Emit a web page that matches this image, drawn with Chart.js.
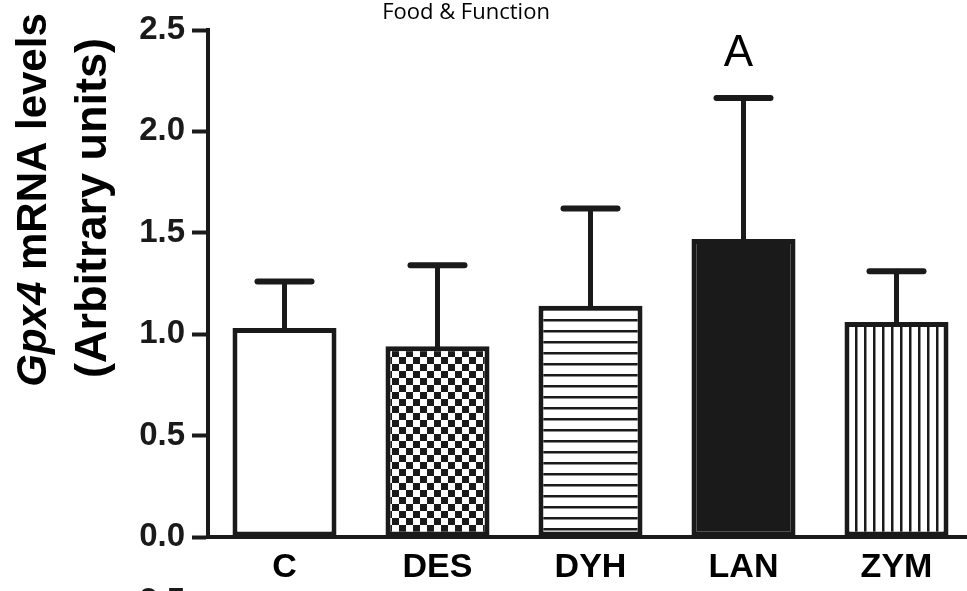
<!DOCTYPE html>
<html>
<head>
<meta charset="utf-8">
<script src="https://cdn.jsdelivr.net/npm/chart.js@4"></script>
<style>
  html, body { margin: 0; padding: 0; background: #fff; overflow: hidden; }
  #wrap { position: absolute; left: 0; top: 0; }
</style>
</head>
<body>
<div id="wrap"><canvas id="gpx4" width="975" height="591"></canvas></div>
<script>
const groups = ['C', 'DES', 'DYH', 'LAN', 'ZYM'];
const means = [1.03, 0.94, 1.14, 1.47, 1.06];
const upperErr = [1.26, 1.34, 1.62, 2.165, 1.31];
const sigLetters = ['', '', '', 'A', ''];
const yTicks = [0, 0.5, 1.0, 1.5, 2.0, 2.5];

const ink = '#1a1a1a';

// fill patterns for the bars
function makePattern(kind) {
    const c = document.createElement('canvas');
    const g = c.getContext('2d');
    if (kind === 'checker') {
        c.width = 14; c.height = 14;
        g.fillStyle = '#fff'; g.fillRect(0, 0, 14, 14);
        g.fillStyle = ink;
        g.fillRect(0, 0, 7, 7);
        g.fillRect(7, 7, 7, 7);
    } else if (kind === 'hlines') {
        c.width = 11; c.height = 11;
        g.fillStyle = '#fff'; g.fillRect(0, 0, 11, 11);
        g.fillStyle = ink;
        g.fillRect(0, 0, 11, 2.5);
    } else if (kind === 'vlines') {
        c.width = 9; c.height = 9;
        g.fillStyle = '#fff'; g.fillRect(0, 0, 9, 9);
        g.fillStyle = ink;
        g.fillRect(0, 0, 2.5, 9);
    }
    return g.createPattern(c, 'repeat');
}

const fills = ['#ffffff', makePattern('checker'), makePattern('hlines'), ink, makePattern('vlines')];

const errorBars = {
    id: 'errorBars',
    afterDatasetsDraw(chart) {
        const ctx = chart.ctx;
        const y = chart.scales.y;
        const meta = chart.getDatasetMeta(0);
        ctx.save();
        ctx.strokeStyle = ink;
        ctx.lineCap = 'round';
        meta.data.forEach((bar, i) => {
            const yTop = y.getPixelForValue(means[i]);
            const yErr = y.getPixelForValue(upperErr[i]);
            ctx.lineWidth = 5;
            ctx.beginPath();
            ctx.moveTo(bar.x, yTop);
            ctx.lineTo(bar.x, yErr);
            ctx.stroke();
            ctx.lineWidth = 6;
            ctx.beginPath();
            ctx.moveTo(bar.x - 27, yErr);
            ctx.lineTo(bar.x + 27, yErr);
            ctx.stroke();
            if (sigLetters[i]) {
                ctx.fillStyle = '#000';
                ctx.font = '44px "Liberation Sans", Arial, sans-serif';
                ctx.textAlign = 'center';
                ctx.textBaseline = 'alphabetic';
                ctx.fillText(sigLetters[i], bar.x - 5, yErr - 32);
            }
        });
        ctx.restore();
    }
};

const extraText = {
    id: 'extraText',
    afterDraw(chart) {
        const ctx = chart.ctx;
        ctx.save();
        // journal header
        ctx.fillStyle = '#000';
        ctx.font = '22px "Open Sans", sans-serif';
        ctx.textAlign = 'center';
        ctx.textBaseline = 'alphabetic';
        ctx.fillText('Food & Function', 466, 19);
        ctx.restore();

        // y axis title, two rotated lines
        ctx.save();
        ctx.fillStyle = '#000';
        ctx.translate(0, 200);
        ctx.rotate(-Math.PI / 2);
        const italicPart = 'Gpx4';
        const restPart = ' mRNA levels';
        ctx.font = 'italic bold 42px "Liberation Sans", Arial, sans-serif';
        const w1 = ctx.measureText(italicPart).width;
        ctx.font = 'bold 42px "Liberation Sans", Arial, sans-serif';
        const w2 = ctx.measureText(restPart).width;
        const start = -(w1 + w2) / 2;
        ctx.textAlign = 'left';
        ctx.font = 'italic bold 42px "Liberation Sans", Arial, sans-serif';
        ctx.fillText(italicPart, start, 46);
        ctx.font = 'bold 42px "Liberation Sans", Arial, sans-serif';
        ctx.fillText(restPart, start + w1, 46);
        ctx.textAlign = 'center';
        ctx.font = 'bold 45px "Liberation Sans", Arial, sans-serif';
        ctx.fillText('(Arbitrary units)', -8, 106);
        ctx.restore();

        // clipped tick of the panel below
        ctx.save();
        ctx.fillStyle = ink;
        ctx.font = 'bold 33px "Liberation Sans", Arial, sans-serif';
        ctx.textAlign = 'right';
        ctx.textBaseline = 'alphabetic';
        ctx.fillText('2.5', 185, 611);
        ctx.restore();
    }
};

new Chart(document.getElementById('gpx4'), {
    type: 'bar',
    data: {
        labels: groups,
        datasets: [{
            data: means,
            backgroundColor: fills,
            borderColor: ink,
            borderWidth: 5,
            borderSkipped: false,
            barPercentage: 0.68,
            categoryPercentage: 1.0
        }]
    },
    options: {
        responsive: false,
        animation: false,
        layout: { padding: { top: 30, right: 2, left: 0, bottom: 0 } },
        plugins: {
            legend: { display: false },
            tooltip: { enabled: false },
            title: { display: false }
        },
        scales: {
            x: {
                afterFit: s => { s.height = 54; },
                grid: { display: false, drawTicks: false },
                border: { display: true, color: ink, width: 4 },
                ticks: {
                    color: '#000',
                    padding: 10,
                    font: { family: '"Liberation Sans", Arial, sans-serif', size: 34, weight: 'bold' }
                }
            },
            y: {
                min: 0,
                max: 2.5,
                afterFit: s => { s.width = 208; },
                afterBuildTicks: s => { s.ticks = yTicks.map(v => ({ value: v })); },
                grid: { drawOnChartArea: false, drawTicks: true, tickLength: 16, tickWidth: 4, tickColor: ink },
                border: { display: true, color: ink, width: 4 },
                ticks: {
                    color: ink,
                    padding: 7,
                    callback: v => v.toFixed(1),
                    font: { family: '"Liberation Sans", Arial, sans-serif', size: 33, weight: 'bold' }
                }
            }
        }
    },
    plugins: [errorBars, extraText]
});
</script>
</body>
</html>
